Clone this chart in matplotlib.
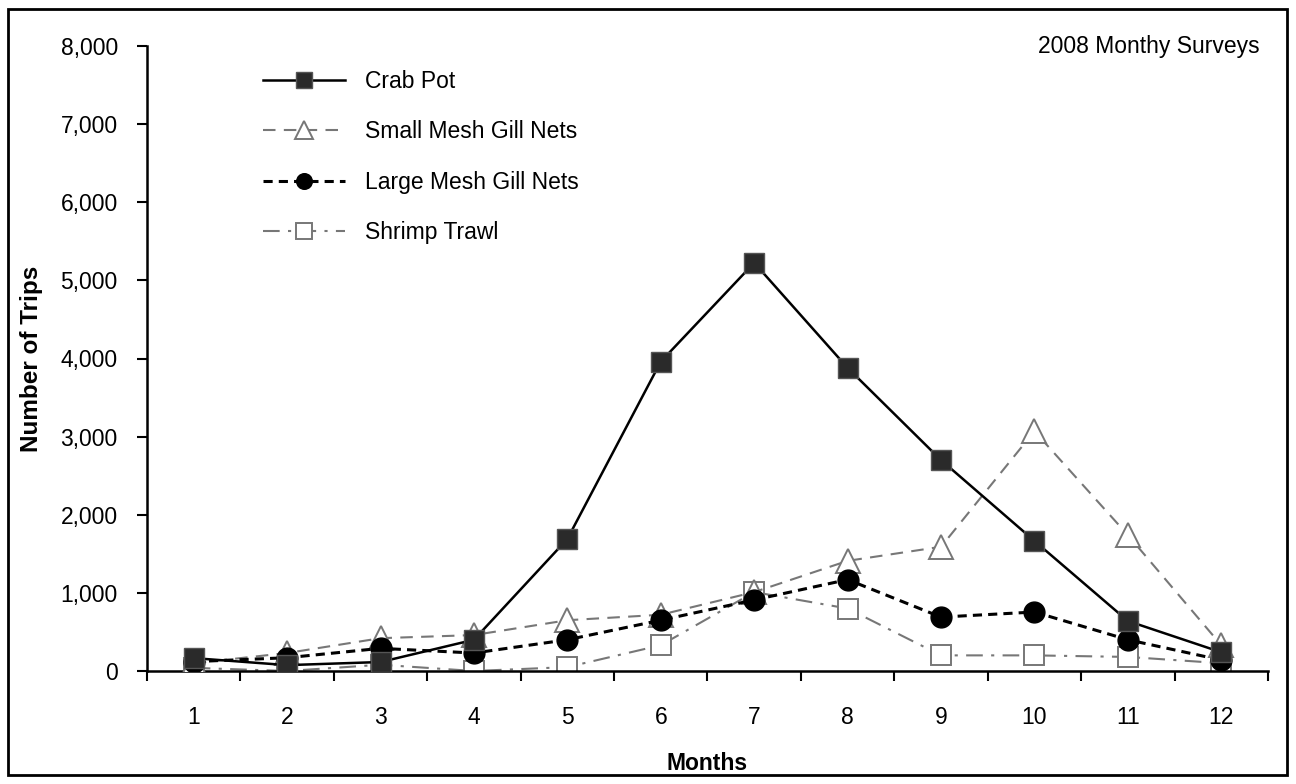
import matplotlib
matplotlib.use("Agg")
import matplotlib.pyplot as plt
from matplotlib.patches import Rectangle
from matplotlib.ticker import FuncFormatter, FixedLocator

months = [1, 2, 3, 4, 5, 6, 7, 8, 9, 10, 11, 12]
month_labels = [str(m) for m in months]
crab_pot = [165, 75, 115, 400, 1690, 3960, 5225, 3880, 2700, 1665, 640, 240]
small_mesh = [100, 230, 420, 460, 650, 720, 1010, 1410, 1590, 3070, 1740, 330]
large_mesh = [120, 170, 290, 230, 400, 650, 910, 1170, 690, 755, 400, 140]
shrimp_trawl = [40, 0, 80, 0, 50, 330, 1010, 800, 200, 200, 180, 100]

plt.rcParams['font.family'] = ['Liberation Sans', 'DejaVu Sans']
FS = 16.5

W, H = 1296, 784
fig = plt.figure(figsize=(W / 100, H / 100), dpi=100)
ax = fig.add_axes([147 / W, (H - 671) / H, (1268 - 147) / W, (671 - 46) / H])

ax.plot(months, crab_pot, color='black', lw=1.8, ls='-', marker='s', ms=15,
        mfc='#2a2a2a', mec='#555555', label='Crab Pot', zorder=5)
ax.plot(months, small_mesh, color='#777777', lw=1.5, ls=(0, (6, 4)), marker='^', ms=17,
        mfc='white', mec='#777777', mew=1.4, label='Small Mesh Gill Nets', zorder=3)
ax.plot(months, large_mesh, color='black', lw=2.2, ls=(0, (3, 2)), marker='o', ms=15,
        mfc='black', mec='black', label='Large Mesh Gill Nets', zorder=4)
ax.plot(months, shrimp_trawl, color='#777777', lw=1.5, ls=(0, (8, 4, 1.5, 4)), marker='s', ms=15,
        mfc='white', mec='#777777', mew=1.4, label='Shrimp Trawl', zorder=2)

ax.set_xlim(0.5, 12.5)
ax.set_ylim(0, 8000)
ax.set_yticks(range(0, 8001, 1000))
ax.yaxis.set_major_formatter(FuncFormatter(lambda v, p: f"{int(v):,}"))
ax.set_xticks(months)
ax.set_xticklabels(month_labels)
ax.xaxis.set_minor_locator(FixedLocator([m + 0.5 for m in range(0, 13)]))
ax.tick_params(axis='x', which='major', length=0, pad=25, labelsize=FS)
ax.tick_params(axis='x', which='minor', length=7, width=1.5, direction='out')
ax.tick_params(axis='y', which='major', length=7, width=1.5, direction='out', labelsize=FS, pad=14)

for s in ['top', 'right']:
    ax.spines[s].set_visible(False)
for s in ['left', 'bottom']:
    ax.spines[s].set_linewidth(1.8)

ax.set_xlabel('Months', fontsize=FS, fontweight='bold', labelpad=17)
ax.set_ylabel('Number of Trips', fontsize=17.5, fontweight='bold', labelpad=13)

ax.text(1260 / W, 1 - 46 / H, '2008 Monthy Surveys', transform=fig.transFigure,
        ha='right', va='center', fontsize=FS)

leg = ax.legend(loc='upper left', bbox_to_anchor=(242 / W, (H - 49) / H),
                bbox_transform=fig.transFigure, frameon=False, fontsize=FS,
                handlelength=3.6, labelspacing=1.2, handletextpad=0.85, markerscale=0.75)

fig.patches.append(Rectangle((8 / W, 9 / H), (1287 - 8) / W, (775 - 9) / H,
                             transform=fig.transFigure, fill=False, ec='black', lw=2))

fig.savefig('out.png', dpi=100)
